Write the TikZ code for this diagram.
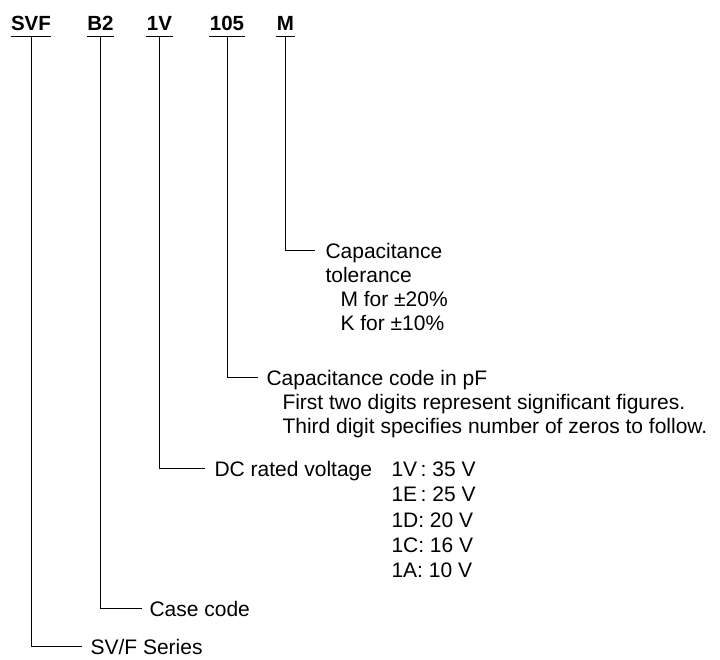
\documentclass[tikz,border=0pt]{standalone}
\usepackage{fontspec}
\setmainfont{Liberation Sans}

\begin{document}
\begin{tikzpicture}[x=1pt, y=-1pt, line width=1pt,
        kod/.style={font=\fontsize{20.5}{24}\selectfont\bfseries, inner sep=0pt, anchor=base, text depth=6pt},
        cimke/.style={font=\fontsize{21}{25}\selectfont, inner sep=0pt, anchor=base west, text height=15pt, text depth=0pt}]
        \useasboundingbox (0,0) rectangle (720,659);

        % the type code, underlined part by part
        \node[kod] (svf) at (31,30) {SVF};
        \node[kod] (btwo) at (100.5,30) {B2};
        \node[kod] (volt) at (159.5,30) {1V};
        \node[kod] (kap) at (227,30) {105};
        \node[kod] (tur) at (285.5,30) {M};
        \foreach \n in {svf, btwo, volt, kap, tur} {
                \draw (\n.south west) -- (\n.south east);
            }

        % explanations
        \node[cimke] (turA) at (325,258) {Capacitance};
        \node[cimke] (turB) at (325,282) {tolerance};
        \node[cimke] (turC) at (340,306) {M for ±20\%};
        \node[cimke] (turD) at (340,330) {K for ±10\%};

        \node[cimke] (kapA) at (266,385) {Capacitance code in pF};
        \node[cimke] (kapB) at (282,409) {First two digits represent significant figures.};
        \node[cimke] (kapC) at (282,433) {Third digit specifies number of zeros to follow.};

        \node[cimke] (voltA) at (214,476) {DC rated voltage};
        \foreach \sor/\y [count=\i] in {{1V\,: 35 V}/476, {1E\,: 25 V}/501, {1D: 20 V}/527, {1C: 16 V}/552, {1A: 10 V}/577} {
                \node[cimke] (v\i) at (391,\y) {\sor};
            }

        \node[cimke] (tok) at (149,616) {Case code};
        \node[cimke] (sor) at (90,654) {SV/F Series};

        % leader lines
        \draw (tur.south) |- ([xshift=-10pt]turA.west);
        \draw (kap.south) |- ([xshift=-8pt]kapA.west);
        \draw (volt.south) |- ([xshift=-9pt]voltA.west);
        \draw (btwo.south) |- ([xshift=-7pt]tok.west);
        \draw (svf.south) |- ([xshift=-8pt]sor.west);
    \end{tikzpicture}
\end{document}
